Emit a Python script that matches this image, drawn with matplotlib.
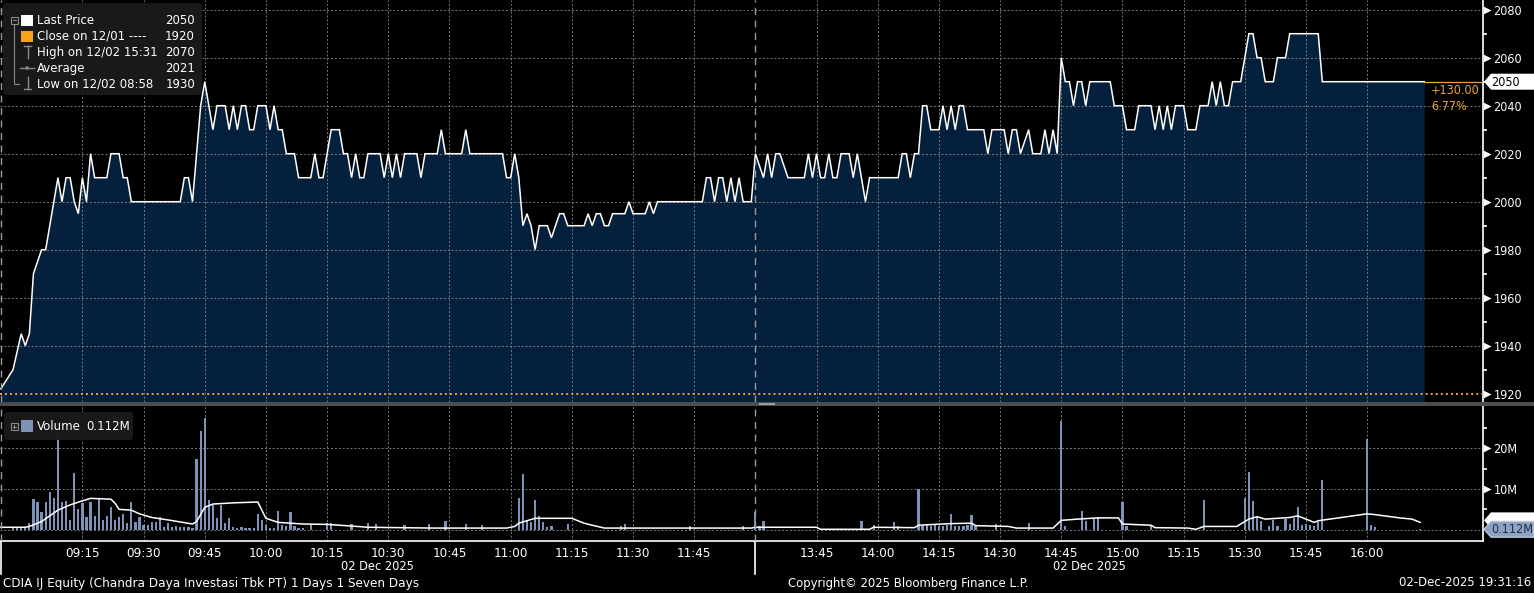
import matplotlib
matplotlib.use("Agg")
import matplotlib.pyplot as plt
from matplotlib.patches import Polygon, Rectangle, FancyBboxPatch, Circle
from matplotlib import transforms
from matplotlib import font_manager as fm

# ---------------------------------------------------------------- data
price_times = [
    "08:55", "08:58", "09:00", "09:01", "09:02", "09:03", "09:05", "09:06", "09:08", "09:09",
    "09:10", "09:11", "09:12", "09:13", "09:14", "09:15", "09:16", "09:17", "09:18", "09:21",
    "09:22", "09:24", "09:25", "09:26", "09:27", "09:39", "09:40", "09:41", "09:42", "09:44",
    "09:45", "09:46", "09:47", "09:48", "09:50", "09:51", "09:52", "09:53", "09:54", "09:55",
    "09:56", "09:57", "09:58", "10:00", "10:01", "10:02", "10:03", "10:04", "10:05", "10:07",
    "10:08", "10:11", "10:12", "10:13", "10:14", "10:16", "10:18", "10:19", "10:20", "10:21",
    "10:22", "10:23", "10:24", "10:25", "10:28", "10:29", "10:30", "10:31", "10:32", "10:33",
    "10:34", "10:37", "10:38", "10:39", "10:42", "10:43", "10:44", "10:48", "10:49", "10:50",
    "10:58", "10:59", "11:00", "11:01", "11:02", "11:03", "11:04", "11:05", "11:06", "11:07",
    "11:09", "11:10", "11:12", "11:13", "11:14", "11:18", "11:19", "11:20", "11:21", "11:22",
    "11:23", "11:24", "11:25", "11:28", "11:29", "11:30", "11:33", "11:34", "11:35", "11:36",
    "11:47", "11:48", "11:49", "11:50", "11:51", "11:52", "11:53", "11:54", "11:55", "11:56",
    "11:57", "11:59",
    "13:30", "13:32", "13:33", "13:34", "13:35", "13:36", "13:38", "13:42", "13:43", "13:44",
    "13:45", "13:46", "13:47", "13:48", "13:49", "13:50", "13:51", "13:53", "13:54", "13:55",
    "13:57", "13:58", "14:05", "14:06", "14:07", "14:08", "14:09", "14:10", "14:11", "14:12",
    "14:13", "14:15", "14:16", "14:17", "14:18", "14:19", "14:20", "14:21", "14:22", "14:26",
    "14:27", "14:28", "14:31", "14:32", "14:33", "14:34", "14:35", "14:37", "14:38", "14:40",
    "14:41", "14:42", "14:43", "14:44", "14:45", "14:46", "14:47", "14:48", "14:49", "14:50",
    "14:51", "14:52", "14:57", "14:58", "15:00", "15:01", "15:03", "15:04", "15:07", "15:08",
    "15:09", "15:10", "15:11", "15:12", "15:13", "15:15", "15:16", "15:18", "15:19", "15:21",
    "15:22", "15:23", "15:24", "15:25", "15:26", "15:27", "15:29", "15:31", "15:32", "15:33",
    "15:34", "15:35", "15:37", "15:38", "15:40", "15:41", "15:48", "15:49", "16:14",
]
price_values = [
    1922, 1930, 1945, 1940, 1945, 1970, 1980, 1980, 2000, 2010,
    2000, 2010, 2010, 2000, 1995, 2010, 2000, 2020, 2010, 2010,
    2020, 2020, 2010, 2010, 2000, 2000, 2010, 2010, 2000, 2040,
    2050, 2040, 2030, 2040, 2040, 2030, 2040, 2030, 2040, 2040,
    2030, 2030, 2040, 2040, 2030, 2040, 2030, 2030, 2020, 2020,
    2010, 2010, 2020, 2010, 2010, 2030, 2030, 2020, 2020, 2010,
    2020, 2010, 2010, 2020, 2020, 2010, 2020, 2010, 2020, 2010,
    2020, 2020, 2010, 2020, 2020, 2030, 2020, 2020, 2030, 2020,
    2020, 2010, 2010, 2020, 2010, 1990, 1995, 1990, 1980, 1990,
    1990, 1985, 1995, 1995, 1990, 1990, 1995, 1990, 1995, 1995,
    1990, 1990, 1995, 1995, 2000, 1995, 1995, 2000, 1995, 2000,
    2000, 2010, 2010, 2000, 2010, 2010, 2000, 2010, 2000, 2010,
    2000, 2000,
    2020, 2010, 2020, 2010, 2020, 2020, 2010, 2010, 2020, 2010,
    2020, 2010, 2010, 2020, 2010, 2010, 2020, 2020, 2010, 2020,
    2000, 2010, 2010, 2020, 2020, 2010, 2020, 2020, 2040, 2040,
    2030, 2030, 2040, 2030, 2040, 2030, 2040, 2040, 2030, 2030,
    2020, 2030, 2030, 2020, 2030, 2030, 2020, 2030, 2020, 2020,
    2030, 2020, 2030, 2020, 2060, 2050, 2050, 2040, 2050, 2050,
    2040, 2050, 2050, 2040, 2040, 2030, 2030, 2040, 2040, 2030,
    2040, 2030, 2040, 2030, 2040, 2040, 2030, 2030, 2040, 2040,
    2050, 2040, 2050, 2040, 2040, 2050, 2050, 2070, 2070, 2060,
    2060, 2050, 2050, 2060, 2060, 2070, 2070, 2050, 2050,
]

volume_times = [
    "08:58", "08:59", "09:00", "09:01", "09:02", "09:03", "09:04", "09:05", "09:06", "09:07",
    "09:08", "09:09", "09:10", "09:11", "09:12", "09:13", "09:14", "09:15", "09:16", "09:17",
    "09:18", "09:19", "09:20", "09:21", "09:22", "09:23", "09:24", "09:25", "09:26", "09:27",
    "09:28", "09:29", "09:30", "09:31", "09:32", "09:33", "09:34", "09:35", "09:36", "09:37",
    "09:38", "09:39", "09:40", "09:41", "09:42", "09:43", "09:44", "09:45", "09:46", "09:47",
    "09:48", "09:49", "09:50", "09:51", "09:52", "09:53", "09:54", "09:55", "09:56", "09:57",
    "09:58", "09:59", "10:00", "10:01", "10:02", "10:03", "10:04", "10:05", "10:06", "10:07",
    "10:08", "10:09", "10:11", "10:15", "10:16", "10:21", "10:25", "10:27", "10:34", "10:40",
    "10:44", "10:49", "10:53", "11:02", "11:03", "11:04", "11:05", "11:06", "11:07", "11:08",
    "11:09", "11:10", "11:14", "11:27", "11:28", "11:44", "11:57",
    "13:30", "13:31", "13:32", "13:56", "13:59", "14:04", "14:05", "14:10", "14:11", "14:12",
    "14:13", "14:14", "14:15", "14:16", "14:17", "14:18", "14:19", "14:20", "14:21", "14:22",
    "14:23", "14:24", "14:29", "14:37", "14:45", "14:46", "14:50", "14:51", "14:53", "14:54",
    "15:00", "15:01", "15:07", "15:20", "15:30", "15:31", "15:32", "15:33", "15:34", "15:36",
    "15:37", "15:38", "15:40", "15:41", "15:42", "15:43", "15:44", "15:45", "15:46", "15:47",
    "15:48", "15:49", "16:00", "16:01", "16:02", "16:13",
]
volume_values = [  # millions of shares
    0.5, 0.4, 0.5, 0.5, 1.6, 7.5, 6.8, 4.3, 6.8, 9.3,
    7.8, 23.3, 6.8, 7.0, 2.4, 13.9, 5.2, 6.5, 3.0, 6.8,
    3.4, 7.6, 2.4, 3.4, 5.5, 2.4, 3.0, 3.9, 1.6, 6.8,
    1.9, 3.0, 1.1, 1.1, 1.9, 1.9, 3.0, 0.7, 1.6, 0.7,
    0.9, 0.6, 0.7, 0.6, 0.5, 17.4, 24.3, 27.5, 7.3, 6.1,
    2.8, 6.1, 1.6, 2.8, 0.7, 0.5, 0.6, 0.5, 0.5, 0.5,
    3.9, 2.4, 1.1, 0.5, 0.5, 4.6, 1.1, 0.9, 4.3, 0.9,
    0.5, 0.5, 1.1, 1.6, 1.6, 1.3, 1.6, 1.3, 1.1, 1.3,
    2.1, 1.3, 1.1, 7.7, 13.7, 2.4, 2.0, 7.3, 3.4, 1.9,
    0.7, 0.9, 1.4, 0.9, 1.4, 0.9, 0.9,
    4.4, 1.0, 2.2, 2.2, 1.1, 2.0, 1.0, 10.1, 1.0, 1.1,
    1.0, 1.2, 0.9, 1.0, 1.1, 3.9, 1.0, 0.9, 1.0, 1.1,
    3.7, 1.0, 1.4, 1.6, 26.6, 1.0, 4.7, 2.2, 2.6, 3.2,
    6.7, 1.0, 1.1, 7.4, 7.9, 14.1, 7.0, 3.0, 2.2, 1.0,
    2.4, 1.0, 2.6, 1.5, 2.8, 5.5, 1.2, 1.4, 1.2, 1.0,
    1.8, 12.3, 22.3, 1.1, 0.7, 0.112,
]

vol_avg_times = [
    "08:55", "09:01", "09:02", "09:05", "09:09", "09:12", "09:15", "09:17", "09:22", "09:23",
    "09:24", "09:27", "09:29", "09:32", "09:36", "09:42", "09:43", "09:45", "09:47", "09:52",
    "09:58", "10:00", "10:03", "10:09", "10:15", "10:21", "10:25", "10:41", "10:59", "11:01",
    "11:02", "11:06", "11:15", "11:18", "11:20", "11:23", "11:59",
    "13:30", "13:45", "13:46", "13:58", "13:59", "14:09", "14:10", "14:18", "14:23", "14:24",
    "14:32", "14:34", "14:43", "14:45", "14:49", "14:54", "14:59", "15:00", "15:07", "15:08",
    "15:16", "15:18", "15:20", "15:28", "15:31", "15:33", "15:35", "15:41", "15:43", "15:47",
    "15:48", "16:00", "16:02", "16:08", "16:11", "16:13",
]
vol_avg_values = [
    0.6, 0.6, 0.8, 2.0, 4.8, 6.1, 7.1, 7.7, 7.5, 6.5,
    5.0, 4.8, 3.9, 3.0, 2.4, 1.4, 2.0, 5.5, 6.3, 6.6,
    6.8, 2.8, 1.8, 1.4, 1.3, 0.9, 0.6, 0.4, 0.4, 0.8,
    1.6, 2.8, 2.8, 1.6, 1.1, 0.4, 0.4,
    0.6, 0.6, 0.1, 0.1, 0.6, 0.5, 1.1, 1.5, 1.6, 1.0,
    0.8, 0.4, 0.4, 2.3, 2.6, 2.9, 2.9, 1.4, 1.1, 0.5,
    0.4, 0.1, 0.8, 0.8, 2.6, 3.2, 2.6, 3.0, 3.4, 1.8,
    2.2, 3.9, 3.7, 2.9, 2.6, 1.8,
]

prev_close = 1920
last_price = 2050
change_abs = "+130.00"
change_pct = "6.77%"
last_volume_label = "0.112M"
price_ticks = [1920, 1940, 1960, 1980, 2000, 2020, 2040, 2060, 2080]
price_minor = [1930, 1950, 1970, 1990, 2010, 2030, 2050, 2070]
volume_ticks = [10, 20]
volume_tick_labels = ["10M", "20M"]
volume_minor = [5, 15, 25]
time_ticks = ["09:15", "09:30", "09:45", "10:00", "10:15", "10:30", "10:45", "11:00",
              "11:15", "11:30", "11:45", "13:45", "14:00", "14:15", "14:30", "14:45",
              "15:00", "15:15", "15:30", "15:45", "16:00"]
date_label = "02 Dec 2025"
legend_labels = ["Last Price", "Close on 12/01 ----", "High on 12/02 15:31", "Average",
                 "Low on 12/02 08:58"]
legend_values = ["2050", "1920", "2070", "2021", "1930"]

# ---------------------------------------------------------------- styling
BG = "black"
NAVY = "#04203d"
ORANGE = "#f0a040"
ORANGE_SQ = "#f7a21b"
BAR = "#7d92b6"
GRID = "#7a7a7a"
W, H = 1534, 593

_files = [f.fname for f in fm.fontManager.ttflist]
if any("DejaVuSansCondensed" in f for f in _files):
    COND = dict(family="DejaVu Sans", fontstretch="condensed")
elif any("LiberationSansNarrow" in f for f in _files):
    COND = dict(family="Liberation Sans Narrow")
else:
    COND = dict(family="DejaVu Sans")
NORM = dict(family="DejaVu Sans")

ORIGIN = 8 * 60 + 54.8
BREAK_START = 12 * 60
BREAK_END = 13 * 60 + 30
XMAX = 363.6


def tmin(s):
    h, m = s.split(":")
    return int(h) * 60 + int(m)


def tpos(s):
    t = tmin(s)
    if t <= BREAK_START:
        return t - ORIGIN
    return (BREAK_START - ORIGIN) + (t - BREAK_END)


BREAK_POS = BREAK_START - ORIGIN

px = [tpos(t) for t in price_times]
vx = [tpos(t) for t in volume_times]
ax_ = [tpos(t) for t in vol_avg_times]
tick_pos = [tpos(t) for t in time_ticks]

fig = plt.figure(figsize=(W / 100, H / 100), dpi=100, facecolor=BG)

AXW = 1483 / W
ax_p = fig.add_axes([0, (H - 402) / H, AXW, 402 / H])
ax_v = fig.add_axes([0, (H - 541) / H, AXW, 135 / H])

P_LO = 2040 - (402 - 105.7) / 2.4
P_HI = 2040 + 105.7 / 2.4
V_LO = 10 - (541 - 489) / 4.07
V_HI = 20 + (448.3 - 406) / 4.07

for a in (ax_p, ax_v):
    a.set_facecolor(BG)
    a.set_xlim(0, XMAX)
    for s in ("top", "left", "bottom"):
        a.spines[s].set_visible(False)
    a.spines["right"].set_color("white")
    a.spines["right"].set_linewidth(1.2)
    a.yaxis.tick_right()

ax_p.set_ylim(P_LO, P_HI)
ax_v.set_ylim(V_LO, V_HI)
ax_v.spines["bottom"].set_visible(True)
ax_v.spines["bottom"].set_color("white")
ax_v.spines["bottom"].set_linewidth(1.2)

# ---- price panel
ax_p.fill_between(px, price_values, P_LO, color=NAVY, lw=0, zorder=1)
ax_p.hlines([t for t in price_ticks if t != prev_close], 0, XMAX, colors=GRID,
            linestyles=(0, (2, 2)), lw=0.7, zorder=2)
ax_p.vlines(tick_pos, P_LO, P_HI, colors=GRID, linestyles=(0, (2, 2)), lw=0.7, zorder=2)
ax_p.axhline(prev_close, color=ORANGE, ls=(0, (1, 1.6)), lw=1.4, zorder=3)
ax_p.plot(px, price_values, color="white", lw=1.1, zorder=4, solid_joinstyle="miter")
ax_p.plot([px[-1], XMAX], [last_price, last_price], color=ORANGE, lw=0.9, zorder=4)
for a, lo, hi in ((ax_p, P_LO, P_HI), (ax_v, V_LO, V_HI)):
    a.vlines([0.35, BREAK_POS], lo, hi, colors="#9a9a9a", linestyles=(0, (5, 4)),
             lw=1.0, zorder=5)

ax_p.set_xticks([])
ax_p.set_yticks(price_ticks)
ax_p.set_yticklabels([str(t) for t in price_ticks], color="white", fontsize=9, **COND)
ax_p.set_yticks(price_minor, minor=True)
ax_p.tick_params(axis="y", which="major", length=0, pad=7.5)
ax_p.tick_params(axis="y", which="minor", length=3, width=1.2, color="white", direction="out")

# ---- volume panel
ax_v.hlines([0] + volume_ticks, 0, XMAX, colors=GRID, linestyles=(0, (2, 2)), lw=0.7, zorder=1)
ax_v.vlines(tick_pos, V_LO, V_HI, colors=GRID, linestyles=(0, (2, 2)), lw=0.7, zorder=1)
ax_v.bar(vx, volume_values, width=0.55, color=BAR, lw=0, zorder=2)
ax_v.plot(ax_, vol_avg_values, color="white", lw=1.1, zorder=3)
ax_v.set_yticks(volume_ticks)
ax_v.set_yticklabels(volume_tick_labels, color="white", fontsize=9, **COND)
ax_v.set_yticks(volume_minor, minor=True)
ax_v.tick_params(axis="y", which="major", length=0, pad=7.5)
ax_v.tick_params(axis="y", which="minor", length=3, width=1.2, color="white", direction="out")
ax_v.set_xticks(tick_pos)
ax_v.set_xticklabels(time_ticks, color="white", fontsize=9.6, **COND)
ax_v.tick_params(axis="x", length=0, pad=4)

# triangles next to the right-hand tick labels
for a, ticks in ((ax_p, price_ticks), (ax_v, volume_ticks)):
    tr = transforms.blended_transform_factory(a.transAxes, a.transData)
    a.plot([1 + 4 / 1483] * len(ticks), ticks, ls="none", marker=">", ms=5.5,
           color="white", mec="none", transform=tr, clip_on=False, zorder=6)

# session dividers below the axis and date labels
trv = transforms.blended_transform_factory(ax_v.transData, ax_v.transAxes)
for xx in (0.35, BREAK_POS):
    ax_v.plot([xx, xx], [0, -33 / 135], color="white", lw=1.2, transform=trv, clip_on=False)
ax_v.text(BREAK_POS / 2, -25 / 135, date_label, transform=trv, ha="center", va="center",
          color="white", fontsize=9.2, **COND)
ax_v.text((BREAK_POS + px[-1]) / 2, -25 / 135, date_label, transform=trv, ha="center",
          va="center", color="white", fontsize=9.2, **COND)

# ---------------------------------------------------------------- overlay (pixel coords)
ov = fig.add_axes([0, 0, 1, 1], zorder=10)
ov.set_xlim(0, W)
ov.set_ylim(H, 0)
ov.axis("off")
ov.patch.set_alpha(0)

fig.canvas.draw()


def to_px(a, x, y):
    d = a.transData.transform((x, y))
    return d[0], H - d[1]


# separator between panels
ov.add_patch(Rectangle((0, 402), W, 4, fc="#4d4d4d", ec="none"))
ov.add_patch(Rectangle((759, 403), 16, 2, fc="#9a9a9a", ec="none"))

# change labels
_, y_last = to_px(ax_p, XMAX, last_price)
ov.text(1431, y_last + 9, change_abs, color=ORANGE, fontsize=9, va="center", ha="left", **COND)
ov.text(1431, y_last + 25, change_pct, color=ORANGE, fontsize=9, va="center", ha="left", **COND)


def tag(yc, fc, text, tc, z, ec="none"):
    h = 8.0
    ov.add_patch(Polygon([(1484, yc), (1491, yc - h), (W, yc - h), (W, yc + h),
                          (1491, yc + h)], closed=True, fc=fc, ec=ec, lw=0.8, zorder=z))
    if text:
        ov.text(1491.5, yc + 0.5, text, color=tc, fontsize=9, va="center", ha="left",
                zorder=z + 0.1, **COND)


tag(y_last, "white", str(last_price), "black", 5)
_, y_avg = to_px(ax_v, XMAX, vol_avg_values[-1])
tag(y_avg - 2, "white", None, "black", 5)          # average tag, hidden behind volume tag
_, y_vol = to_px(ax_v, XMAX, volume_values[-1])
tag(y_vol, "#8ea3c4", last_volume_label, "#1d2c45", 6, ec="#c9d3e3")

# price legend
ov.add_patch(FancyBboxPatch((3, 3), 199, 92, boxstyle="round,pad=0,rounding_size=3",
                            fc="#1b1b1b", ec="none", alpha=0.95))
rows_y = [20.5, 36.3, 52.2, 68.2, 84.0]
for yy, lab, val in zip(rows_y, legend_labels, legend_values):
    ov.text(37, yy, lab, color="white", fontsize=8.5, va="center", ha="left", **NORM)
    ov.text(195, yy, val, color="white", fontsize=8.5, va="center", ha="right", **NORM)
gc = "#8a8a8a"
ov.add_patch(Rectangle((10.5, 16.5), 7, 7, fc="none", ec=gc, lw=0.8))
ov.plot([12.5, 16], [20, 20], color=gc, lw=0.8)
ov.add_patch(Rectangle((21, 15), 12, 11, fc="white", ec="none"))
ov.add_patch(Rectangle((21, 30.5), 12, 11, fc=ORANGE_SQ, ec="none"))
ov.plot([14, 14, 19], [24, 84, 84], color=gc, lw=0.8)
ov.plot([24, 31], [46, 46], color=gc, lw=1.0)
ov.plot([27.5, 27.5], [46, 58], color=gc, lw=1.0)
ov.plot([20, 34], [68, 68], color=gc, lw=1.0)
ov.add_patch(Circle((27, 68), 1.8, fc=gc, ec="none"))
ov.plot([27.5, 27.5], [77, 89], color=gc, lw=1.0)
ov.plot([24, 31], [89, 89], color=gc, lw=1.0)

# volume legend
ov.add_patch(FancyBboxPatch((4, 412), 129, 28, boxstyle="round,pad=0,rounding_size=3",
                            fc="#1b1b1b", ec="none", alpha=0.95))
ov.add_patch(Rectangle((10.5, 423), 7, 7, fc="none", ec=gc, lw=0.8))
ov.plot([12.5, 16], [426.5, 426.5], color=gc, lw=0.8)
ov.plot([14.2, 14.2], [424.8, 428.3], color=gc, lw=0.8)
ov.add_patch(Rectangle((21, 420), 11.5, 11.5, fc=BAR, ec="none"))
ov.text(37, 426.5, "Volume", color="white", fontsize=8.5, va="center", ha="left", **NORM)
ov.text(86, 426.5, last_volume_label, color="white", fontsize=8.5, va="center", ha="left",
        **NORM)

# footer
ov.text(3, 583, "CDIA IJ Equity (Chandra Daya Investasi Tbk PT) 1 Days 1 Seven Days",
        color="white", fontsize=9.6, va="center", ha="left", **COND)
ov.text(788, 583, "Copyright\u00a9 2025 Bloomberg Finance L.P.", color="white", fontsize=9.4,
        va="center", ha="left", **COND)
ov.text(1531, 583, "02-Dec-2025 19:31:16", color="white", fontsize=9.4, va="center",
        ha="right", **COND)

fig.savefig("out.png", dpi=100, facecolor=BG)
